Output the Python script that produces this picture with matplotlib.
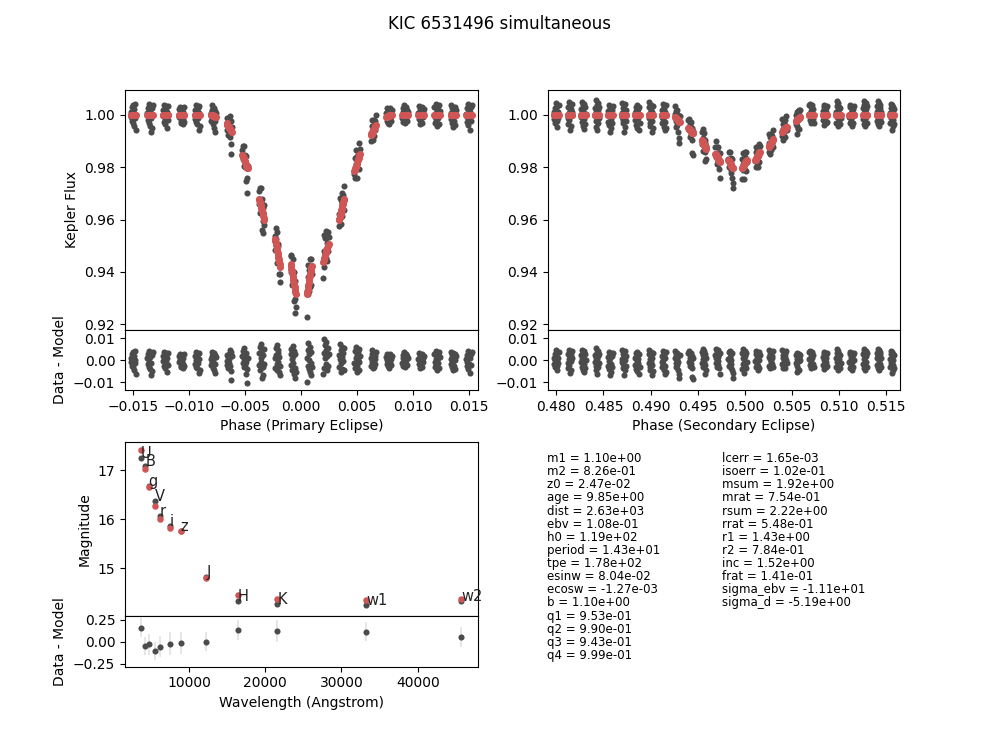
"""
KIC 6531496: eclipses, residuals, SED and fit parameters.
"""
import matplotlib
matplotlib.use("Agg")
import matplotlib.pyplot as plt

COLOR_DATA = "#4b4b4b"
COLOR_MODEL = "#d05656"

# offset of each point from the centre of its cadence group (phase units)
point_offsets = [-.00024, -.0002, -.00016, -.00013, -.00009, -.00006, -.00002,
                 .00001, .00005, .00008, .00012, .00015, .00019, .00024]

flat = [1.0] * 14

primary_phase = [-.01497, -.01348, -.01209, -.01066, -.00926, -.00783, -.00641, -.00501,
                 -.00352, -.0021, -.0007, .00073, .00221, .00361, .005, .00644,
                 .00783, .00926, .01069, .01212, .01357, .01497]

primary_model = [
    flat, flat, flat, flat, flat,
    [1.0, 1.0, 1.0, .9999, .9999, .9998, .9997, .9997, .9996, .9995, .9994, .9993, .9993, .9992],
    [.9967, .9965, .9962, .9959, .9957, .9954, .9952, .9949, .9947, .9944, .9941, .9939, .9937, .9935],
    [.9846, .9842, .9838, .9834, .9830, .9826, .9822, .9818, .9814, .9810, .9806, .9802, .9798, .9795],
    [.9680, .9674, .9668, .9662, .9656, .9650, .9644, .9638, .9632, .9626, .9620, .9614, .9605, .9597],
    [.9527, .9519, .9511, .9503, .9495, .9487, .9479, .9471, .9463, .9455, .9447, .9439, .9429, .9419],
    [.9431, .9422, .9413, .9404, .9395, .9386, .9377, .9368, .9359, .9350, .9341, .9332, .9324, .9317],
    [.9317, .9324, .9332, .9341, .9350, .9359, .9368, .9377, .9386, .9395, .9404, .9413, .9419, .9422],
    [.9438, .9444, .9449, .9455, .9460, .9466, .9471, .9477, .9482, .9488, .9493, .9498, .9503, .9508],
    [.9597, .9603, .9609, .9616, .9622, .9628, .9635, .9641, .9647, .9654, .9660, .9667, .9673, .9680],
    [.9786, .9791, .9796, .9801, .9806, .9811, .9816, .9821, .9826, .9831, .9836, .9841, .9845, .9850],
    [.9922, .9925, .9928, .9931, .9934, .9937, .9940, .9943, .9946, .9949, .9952, .9955, .9958, .9961],
    [.9992, .9993, .9993, .9994, .9995, .9996, .9997, .9997, .9998, .9999, .9999, 1.0, 1.0, 1.0],
    flat, flat, flat, flat, flat,
]

# data - model, in units of 0.001
primary_resid = [
    [1.2, -0.8, 3.0, -2.4, 0.5, -1.6, 3.6, -3.1, 2.1, -4.4, 0.2, 4.2, -1.1, -6.0],
    [0.8, 2.6, -1.9, 4.2, -0.6, -3.0, 1.6, -4.1, 3.4, -1.2, -6.7, 2.4, -5.0, 3.9],
    [-0.4, 1.8, -2.7, 3.7, -1.3, 0.6, -3.6, 2.8, -0.9, 3.2, -5.2, 1.1, -2.0, 3.4],
    [2.1, -1.0, 0.4, 3.0, -2.4, 1.4, -3.0, 2.5, -0.2, -3.7, 1.0, -1.6, 2.8, -2.8],
    [-1.6, 2.0, 0.3, -2.9, 3.7, -0.7, 1.2, -3.6, 2.7, -1.2, -5.7, 3.2, 0.7, -4.4],
    [0.6, -2.2, 1.7, 3.7, -1.0, -3.4, 2.6, 0.1, -4.5, 3.1, -1.6, -5.7, 2.2, 1.3],
    [-0.5, 2.4, -2.1, 1.3, -3.3, 3.0, -1.4, 0.7, 4.8, -2.7, -9.0, 3.6, -4.7, 1.9],
    [1.8, -1.2, 4.1, -3.0, 0.4, 5.5, -2.1, 2.9, -0.8, -6.3, 3.5, -10.2, -4.0, 1.1],
    [-2.0, 3.4, -4.2, 6.0, 1.2, -0.9, 7.5, -7.8, 4.6, -3.1, 2.3, -6.6, 5.2, -1.7],
    [0.9, -3.4, 5.6, 2.2, -1.5, 6.7, -4.4, 3.5, -0.6, 4.6, -5.5, 1.4, -6.7, -2.6],
    [3.0, -2.3, 5.0, 0.4, -4.5, 6.4, 1.8, -1.1, 4.2, -6.1, 2.6, -3.4, -8.0, -5.2],
    [1.2, -9.7, 4.8, -2.5, 7.8, 0.2, -4.0, 2.9, 6.2, -5.4, -1.3, 3.8, -6.7, -3.1],
    [-6.0, 9.7, 3.2, -3.5, 6.8, 0.8, -1.6, 8.1, 4.7, -4.6, 1.9, 5.5, -2.4, 2.7],
    [2.4, -2.9, 7.5, 0.6, -1.4, 4.8, -5.2, 6.2, 1.5, -3.9, 3.3, -0.5, 5.6, -4.3],
    [-1.1, 4.4, -3.7, 1.0, 6.0, -5.2, 2.5, -2.4, 3.7, 0.1, -4.4, 5.1, -0.8, 1.8],
    [0.8, -2.4, 2.9, -1.0, 4.5, -3.3, 1.6, -0.3, 3.4, -2.9, 0.4, 2.1, -1.7, 3.8],
    [1.5, -1.8, 0.3, 3.0, -2.7, -0.9, 2.2, -3.3, 1.0, 2.6, -1.2, 0.6, -2.2, 1.9],
    [-1.2, 2.4, -2.6, 0.9, 3.7, -0.4, -3.0, 1.7, 3.0, -1.9, 0.2, 2.0, -2.3, 1.2],
    [0.7, -1.5, 3.3, -3.7, 1.8, -0.5, 2.5, -2.6, 0.2, 2.9, -3.2, 1.2, -1.0, 2.1],
    [2.8, -0.9, -3.0, 4.2, 0.5, -2.2, 1.7, -4.2, 3.3, -1.4, 0.9, 3.8, -3.5, 1.4],
    [-1.8, 3.7, 0.6, -3.2, 2.4, -0.5, 3.1, -4.5, 1.3, -2.5, 2.8, -3.8, 0.3, 1.9],
    [0.4, -2.7, 2.5, -0.9, 4.2, -3.9, 1.6, -1.7, 3.5, -5.7, 0.9, 2.9, -2.2, 3.9],
]

secondary_phase = [.48, .48145, .48287, .48432, .48573, .48718, .48859, .49004, .49142,
                   .49283, .49426, .49567, .49712, .4985, .49994, .50136, .50277, .50418,
                   .50564, .50705, .5085, .50991, .51133, .51274, .5142, .51561]

secondary_model = [
    flat, flat, flat, flat, flat, flat, flat, flat, flat,
    [.9992, .9991, .9989, .9988, .9986, .9985, .9983, .9982, .9980, .9979, .9977, .9976, .9974, .9973],
    [.9948, .9947, .9945, .9944, .9942, .9941, .9939, .9938, .9936, .9935, .9933, .9932, .9930, .9929],
    [.9903, .9900, .9898, .9895, .9893, .9890, .9888, .9885, .9883, .9880, .9878, .9875, .9873, .9871],
    [.9852, .9849, .9847, .9844, .9842, .9839, .9837, .9834, .9832, .9829, .9827, .9824, .9822, .9820],
    [.9827, .9824, .9822, .9819, .9817, .9814, .9812, .9809, .9807, .9804, .9802, .9799, .9797, .9795],
    [.9795, .9797, .9800, .9802, .9805, .9807, .9810, .9812, .9815, .9817, .9820, .9822, .9825, .9827],
    [.9827, .9829, .9832, .9834, .9837, .9839, .9842, .9844, .9847, .9849, .9852, .9854, .9857, .9859],
    [.9878, .9880, .9882, .9884, .9886, .9888, .9890, .9892, .9894, .9896, .9898, .9901, .9903, .9906],
    [.9935, .9936, .9938, .9939, .9941, .9942, .9944, .9945, .9947, .9948, .9950, .9951, .9953, .9954],
    [.9977, .9978, .9979, .9980, .9981, .9982, .9984, .9985, .9986, .9987, .9988, .9989, .9990, .9992],
    flat, flat, flat, flat, flat, flat, flat, flat,
]

secondary_resid = [
    [0.9, -1.7, 2.6, -3.2, 0.3, 4.5, -0.8, 1.8, -2.5, 3.3, -4.5, 1.2, -1.1, 3.9],
    [-1.2, 3.0, -3.4, 0.7, 4.8, -2.0, 1.6, -5.7, 3.7, -0.4, 2.2, -4.3, 0.9, 4.1],
    [2.2, -0.9, 4.8, -2.9, 0.5, 3.6, -4.2, 1.3, -1.6, 4.1, -5.5, 2.8, -3.5, 0.2],
    [-0.6, 2.5, -4.6, 5.5, 1.1, -2.4, 3.8, -6.0, 0.4, 4.4, -3.2, 1.9, -1.3, 2.9],
    [1.4, -2.6, 3.7, -0.5, -4.0, 2.4, -6.7, 0.8, 3.1, -1.6, -5.2, 1.8, -3.1, 3.3],
    [-1.0, 4.5, 0.6, -3.3, 2.7, -1.9, -6.7, 3.6, 1.2, -4.6, 0.2, 4.0, -2.4, 2.0],
    [0.8, -2.1, 3.1, -3.8, 1.5, -0.4, 3.7, -5.0, 2.2, -1.3, 0.5, -6.0, 2.9, -3.0],
    [2.9, -1.4, 4.8, -3.0, 0.6, -4.4, 2.0, -0.7, 3.9, -2.3, 1.1, -6.7, 3.2, -5.0],
    [-0.9, 1.8, -3.2, 4.2, 0.2, -1.7, 3.3, -4.5, 2.4, -6.0, 1.0, -2.6, 3.7, -5.1],
    [1.1, 4.2, -1.4, 2.8, -3.1, 0.4, 3.5, -2.2, 1.9, -0.8, -4.2, -8.2, -6.1, 2.3],
    [3.1, -0.7, 4.0, 1.2, -2.6, 2.5, -1.5, 3.5, 0.3, -3.3, 1.8, -7.7, -8.5, 0.9],
    [-1.4, 3.6, 0.5, 5.2, -3.1, 2.2, -0.6, 4.4, -6.0, 1.4, -2.2, 3.0, -4.3, 1.0],
    [2.4, -1.1, 5.2, 0.8, -3.0, 3.9, 1.6, -2.1, 4.6, -0.4, -3.3, 2.9, -6.3, 3.4],
    [0.5, -2.5, 3.6, -0.8, 4.2, 1.4, -3.6, 2.6, -1.6, 0.2, -4.4, 3.1, -7.8, -5.6],
    [3.5, -4.1, 1.2, 5.2, -1.6, 2.6, -5.7, 0.4, 4.1, -2.7, 1.9, -3.5, 3.1, -0.8],
    [-0.5, 2.7, -3.1, 4.2, 0.9, -1.9, 3.3, -4.2, 1.6, -2.6, 3.8, 0.2, -3.6, 2.2],
    [1.6, -2.4, 4.5, 0.5, -3.7, 2.8, -1.0, 3.6, -3.0, 0.9, 2.1, -1.7, 4.0, -2.9],
    [-1.5, 4.8, 0.9, -3.7, 2.4, -0.6, 3.8, -2.8, 1.3, -3.3, 2.9, 0.2, 4.3, -1.1],
    [2.2, -1.2, 3.3, -5.2, 0.7, -2.5, 2.9, -3.9, 1.5, -0.5, 3.0, -4.4, 0.3, 2.5],
    [0.4, 3.6, -2.0, 4.2, -3.3, 1.3, -0.9, 2.8, -2.7, 3.9, 0.8, -1.6, 2.2, -3.0],
    [-2.1, 1.5, 3.7, -4.0, 0.3, 2.9, -1.1, 3.2, -3.2, 1.0, -0.6, 2.4, -2.6, 3.4],
    [1.1, -3.1, 5.2, -0.9, 3.4, -4.2, 1.9, 4.4, -2.0, 0.5, 3.0, -3.6, 2.5, -1.4],
    [-0.7, 2.9, -3.3, 3.7, 0.8, -2.3, 1.7, -4.2, 3.1, -1.0, 2.2, -3.0, 0.3, 3.4],
    [2.7, -1.6, 5.2, -3.5, 0.6, 3.9, -2.4, 1.4, -4.2, 4.4, -0.8, 2.1, -3.0, 3.2],
    [-2.2, 3.3, 0.9, 5.2, -3.6, 1.9, -0.4, 4.5, -4.2, 2.6, -1.5, 3.8, -2.9, 1.1],
    [0.6, -3.0, 4.2, -1.2, 2.6, -5.7, 1.2, 3.6, -2.1, -4.3, 3.0, 0.3, -3.5, 2.2],
]

# SED
band_names = ["U", "B", "g", "V", "r", "i", "z", "J", "H", "K", "w1", "w2"]
band_wave = [3702, 4270, 4710, 5500, 6160, 7470, 8910, 12270, 16390, 21590, 33220, 45720]
band_mag = [17.245, 17.08, 16.67, 16.37, 16.06, 15.855, 15.765, 14.815, 14.33, 14.27, 14.245, 14.34]
band_model = [17.41, 17.03, 16.66, 16.265, 16.0, 15.815, 15.76, 14.81, 14.455, 14.38, 14.355, 14.38]
band_resid = [.16, -.05, -.03, -.11, -.055, -.023, -.013, 0.0, .133, .118, .115, .053]
band_err = [.107, .107, .122, .103, .122, .13, .122, .11, .11, .126, .107, .11]

params_left = ["m1 = 1.10e+00", "m2 = 8.26e-01", "z0 = 2.47e-02", "age = 9.85e+00",
               "dist = 2.63e+03", "ebv = 1.08e-01", "h0 = 1.19e+02", "period = 1.43e+01",
               "tpe = 1.78e+02", "esinw = 8.04e-02", "ecosw = -1.27e-03", "b = 1.10e+00",
               "q1 = 9.53e-01", "q2 = 9.90e-01", "q3 = 9.43e-01", "q4 = 9.99e-01"]
params_right = ["lcerr = 1.65e-03", "isoerr = 1.02e-01", "msum = 1.92e+00", "mrat = 7.54e-01",
                "rsum = 2.22e+00", "rrat = 5.48e-01", "r1 = 1.43e+00", "r2 = 7.84e-01",
                "inc = 1.52e+00", "frat = 1.41e-01", "sigma_ebv = -1.11e+01", "sigma_d = -5.19e+00"]

W, H = 1000.0, 750.0
DOT = 4.4


def axes_px(x0, x1, ytop, ybot):
    return fig.add_axes([x0 / W, 1 - ybot / H, (x1 - x0) / W, (ybot - ytop) / H])


def eclipse_panel(x0, x1, phases, models, resids, xlim, xticks, xlabel, ylabel):
    main = axes_px(x0, x1, 90, 329.5)
    low = axes_px(x0, x1, 329.5, 390)
    xs, data, mod, res = [], [], [], []
    for phase, model, resid in zip(phases, models, resids):
        for off, m, r in zip(point_offsets, model, resid):
            xs.append(phase + off)
            mod.append(m)
            res.append(r / 1000.0)
            data.append(m + r / 1000.0)
    main.plot(xs, data, "o", ms=DOT, color=COLOR_DATA, mew=0)
    main.plot(xs, mod, "o", ms=DOT + 0.7, color=COLOR_MODEL, mew=0)
    low.plot(xs, res, "o", ms=DOT, color=COLOR_DATA, mew=0)
    main.set_xlim(xlim)
    low.set_xlim(xlim)
    main.set_ylim(.91805, 1.00945)
    low.set_ylim(-.01345, .0139)
    main.set_xticks([])
    main.set_yticks([.92, .94, .96, .98, 1.0])
    main.set_yticklabels(["0.92", "0.94", "0.96", "0.98", "1.00"])
    low.set_yticks([-.01, 0, .01])
    low.set_yticklabels(["\u22120.01", "0.00", "0.01"])
    low.set_xticks(xticks)
    low.set_xticklabels([t.replace("-", "\u2212") for t in ["%.3f" % v for v in xticks]])
    low.set_xlabel(xlabel)
    if ylabel:
        main.set_ylabel("Kepler Flux")
        low.set_ylabel("Data - Model")


fig = plt.figure(figsize=(10, 7.5), dpi=100)
fig.suptitle("KIC 6531496 simultaneous", fontsize=12, y=.98)

eclipse_panel(125, 477.7, primary_phase, primary_model, primary_resid,
              (-.01571, .01575), [-.015, -.01, -.005, 0, .005, .01, .015],
              "Phase (Primary Eclipse)", True)
eclipse_panel(547.7, 900, secondary_phase, secondary_model, secondary_resid,
              (.47909, .51645), [.48, .485, .49, .495, .5, .505, .51, .515],
              "Phase (Secondary Eclipse)", False)

# SED
sed = axes_px(125, 477.7, 442, 615.7)
sed_low = axes_px(125, 477.7, 615.7, 666.7)
sed.plot(band_wave, band_mag, "o", ms=DOT, color=COLOR_DATA, mew=0)
sed.plot(band_wave, band_model, "o", ms=DOT + 0.3, color=COLOR_MODEL, mew=0)
for name, w, m in zip(band_names, band_wave, band_mag):
    sed.text(w, m, name, fontsize=10.5, color="#222222")
sed.set_xlim(1603, 47872)
sed.set_ylim(14.033, 17.578)
sed.set_xticks([])
sed.set_yticks([15, 16, 17])
sed.set_ylabel("Magnitude")

sed_low.errorbar(band_wave, band_resid, yerr=band_err, fmt="o", ms=DOT, color=COLOR_DATA,
                 mew=0, ecolor="#e6e6e6", elinewidth=1.4)
sed_low.set_xlim(1603, 47872)
sed_low.set_ylim(-.286, .2975)
sed_low.set_yticks([-.25, 0, .25])
sed_low.set_yticklabels(["\u22120.25", "0.00", "0.25"])
sed_low.set_xticks([10000, 20000, 30000, 40000])
sed_low.set_xlabel("Wavelength (Angstrom)")
sed_low.set_ylabel("Data - Model")

# fit parameters
for col_x, rows in ((547, params_left), (722, params_right)):
    for i, row in enumerate(rows):
        fig.text(col_x / W, 1 - (458.5 + i * 13.13) / H, row, fontsize=8.5, va="center")

fig.savefig("out.png", dpi=100)
